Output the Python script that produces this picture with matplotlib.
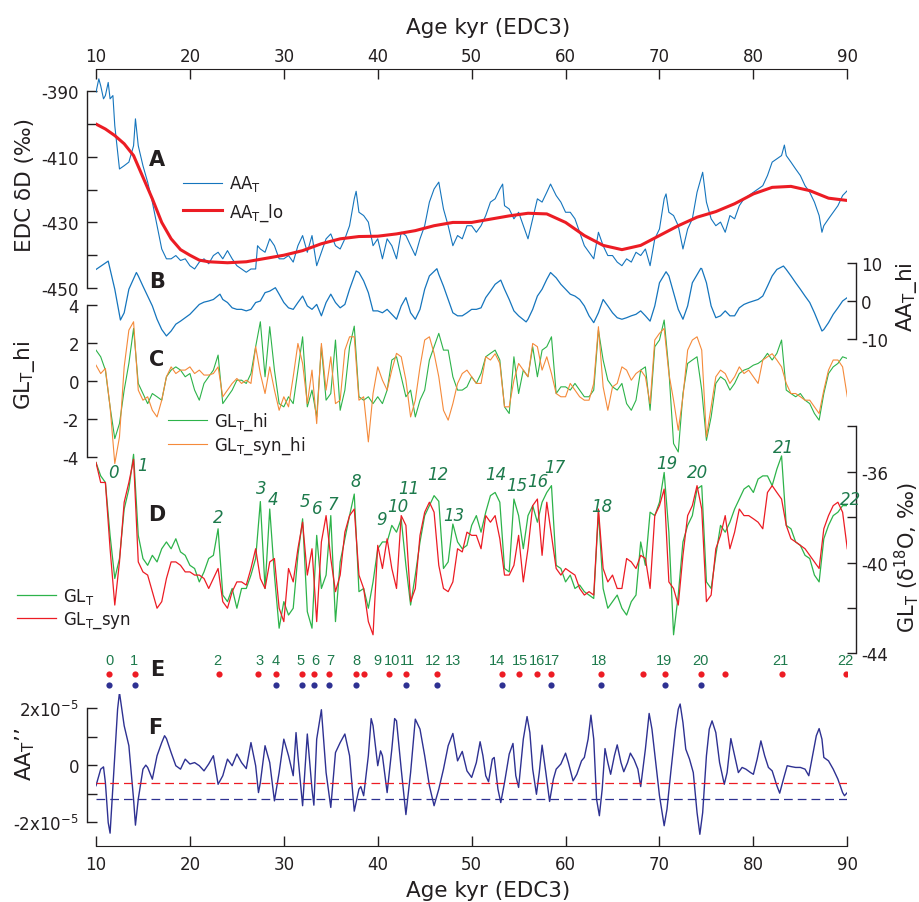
import numpy as np
import matplotlib
matplotlib.use('Agg')
import matplotlib.pyplot as plt

plt.rcParams['font.family'] = ['DejaVu Sans']
plt.rcParams['mathtext.default'] = 'regular'
plt.rcParams['axes.unicode_minus'] = False

# ── Values ───────────────────────────────────────────────────────────────────
# A: EDC dD (permil) and its low-pass
aa_age = [10, 10.3, 10.5, 10.8, 11, 11.3, 11.5, 11.8, 12, 12.5, 13, 13.5, 14, 14.2, 14.5,
          15, 15.5, 16, 16.5, 17, 17.5, 18, 18.5, 19, 19.5, 20, 20.5, 21, 21.5, 22, 22.5,
          23, 23.5, 24, 24.5, 25, 25.5, 26, 26.5, 27, 27.2, 27.5, 28, 28.5, 29, 29.5, 30,
          30.5, 31, 31.5, 32, 32.5, 33, 33.5, 34, 34.5, 35, 35.5, 36, 36.5, 37, 37.5, 37.7,
          38, 38.5, 39, 39.5, 40, 40.5, 41, 41.5, 42, 42.5, 43, 43.5, 44, 44.5, 45, 45.5,
          46, 46.5, 47, 47.5, 48, 48.5, 49, 49.5, 50, 50.5, 51, 51.5, 52, 52.5, 53, 53.3,
          53.5, 54, 54.5, 55, 55.5, 56, 56.5, 57, 57.5, 58, 58.4, 59, 59.5, 60, 60.5, 61,
          61.5, 62, 62.5, 63, 63.5, 64, 64.5, 65, 65.5, 66, 66.5, 67, 67.5, 68, 68.5, 69,
          69.5, 70, 70.5, 70.7, 71, 71.5, 72, 72.5, 73, 73.5, 74, 74.6, 75, 75.5, 76, 76.5,
          77, 77.5, 78, 78.5, 79, 79.5, 80, 80.5, 81, 81.5, 82, 82.5, 83, 83.3, 83.5, 84,
          84.5, 85, 85.5, 86, 86.5, 87, 87.3, 87.5, 88, 88.5, 89, 89.5, 90]
aa_val = [-390.3, -386.2, -388.3, -392.3, -391.3, -387.3, -392.3, -391.3, -400.5, -413.7,
          -412.7, -411.6, -406.6, -398.4, -406.6, -412.7, -417.7, -423.8, -431.0, -438.1,
          -441.1, -441.1, -440.1, -441.6, -441.1, -443.2, -444.2, -442.1, -441.1, -442.6,
          -440.1, -439.1, -441.1, -438.6, -441.1, -443.2, -444.2, -445.2, -444.2, -444.2,
          -437.1, -438.1, -439.1, -435.0, -437.1, -441.1, -441.1, -440.1, -442.1, -437.1,
          -434.0, -439.1, -434.0, -443.2, -439.1, -435.0, -433.5, -437.1, -438.1, -435.0,
          -431.0, -422.8, -420.5, -426.9, -427.9, -429.9, -437.1, -435.0, -441.1, -435.0,
          -437.1, -441.1, -433.0, -434.0, -437.1, -440.1, -435.0, -431.0, -423.8, -419.8,
          -417.7, -425.9, -431.0, -437.1, -434.0, -435.0, -431.0, -431.0, -433.0, -431.0,
          -427.9, -423.8, -422.8, -419.8, -418.3, -424.9, -425.9, -428.9, -426.9, -431.0,
          -435.0, -428.9, -422.8, -423.8, -420.8, -418.3, -421.8, -423.8, -426.9, -426.9,
          -428.9, -433.0, -437.1, -439.1, -441.1, -433.0, -437.1, -440.1, -440.1, -442.1,
          -443.2, -441.1, -442.1, -439.1, -440.1, -438.1, -443.2, -435.0, -432.0, -422.8,
          -421.3, -426.9, -427.9, -431.0, -438.1, -432.0, -428.9, -420.8, -414.7, -423.8,
          -428.9, -431.0, -429.9, -433.0, -427.9, -428.9, -424.9, -422.8, -421.8, -420.8,
          -419.8, -418.8, -415.7, -411.6, -410.6, -409.6, -406.4, -409.6, -411.6, -413.7,
          -415.7, -418.8, -420.8, -423.8, -427.9, -433.0, -431.0, -428.9, -426.9, -424.9,
          -421.8, -420.3]
aalo_age = [10, 11, 12, 13, 14, 15, 16, 17, 18, 19, 20, 21, 22, 24, 26, 28, 30, 32, 34, 36,
            38, 40, 42, 44, 46, 48, 50, 52, 54, 56, 58, 60, 62, 64, 66, 68, 70, 72, 74, 76,
            78, 80, 82, 84, 86, 88, 90]
aalo_val = [-400, -401.5, -403.5, -406, -409.6, -416.2, -422.8, -430, -435, -438.3, -440,
            -441.5, -442, -442.3, -442, -441, -440, -438.6, -436.5, -435, -434.3, -434.2,
            -433.5, -432.5, -431, -430, -430, -429, -428, -427.2, -427.4, -430, -434, -437,
            -438.3, -437, -434, -431, -428.4, -426.7, -424.3, -421.3, -419.3, -419, -420.3,
            -422.6, -423.3]

# B: AA_T high-pass
aahi_age = [10, 11.3, 12, 12.6, 13, 13.5, 14.3, 14.5, 15, 15.5, 16, 16.5, 17, 17.5, 18, 18.5,
            19, 19.5, 20, 20.5, 21, 21.5, 22, 22.5, 23.2, 23.5, 24, 24.5, 25, 25.5, 26, 26.5,
            27, 27.5, 28, 28.5, 29.1, 29.5, 30, 30.5, 31, 31.5, 32, 32.5, 33, 33.5, 34, 34.5,
            35, 35.5, 36, 36.5, 37, 37.7, 38, 38.5, 39, 39.5, 40, 40.5, 41, 41.5, 42, 42.5,
            43, 43.5, 44, 44.5, 45, 45.5, 46.3, 46.5, 47, 47.5, 48, 48.5, 49, 49.5, 50, 50.5,
            51, 51.5, 52, 52.5, 53.1, 53.5, 54, 54.5, 55, 55.8, 56, 56.5, 57, 57.5, 58, 58.4,
            59, 59.5, 60, 60.5, 61, 61.5, 62, 62.5, 63, 63.5, 64, 64.5, 65, 65.5, 66, 66.5,
            67, 67.5, 68, 68.5, 69, 69.5, 70, 70.7, 71, 71.5, 72, 72.5, 73, 73.5, 74.4, 74.5,
            75, 75.5, 76, 76.5, 77, 77.5, 78, 78.5, 79, 79.5, 80, 80.5, 81, 81.5, 82, 82.5,
            83.2, 83.5, 84, 84.5, 85, 85.5, 86, 86.5, 87, 87.3, 87.5, 88, 88.5, 89, 89.5, 90]
aahi_val = [8.3, 10.5, 3.1, -5.0, -3.1, 3.1, 7.5, 6.6, 3.9, 1.3, -1.3, -4.8, -7.5, -9.2,
            -7.9, -6.1, -5.3, -4.4, -3.5, -2.2, -0.9, -0.3, 0, 0.4, 1.8, 0.4, -0.4, -1.8,
            -2.2, -2.2, -2.6, -2.2, -0.4, 0, 2.2, 2.6, 3.5, 1.8, -0.4, -1.8, -2.2, -0.4, 1.3,
            -1.3, -2.2, -0.9, -3.9, -0.4, 1.8, -0.4, -1.8, -0.9, 3.1, 7.9, 7.5, 5.3, 2.2,
            -2.6, -2.6, -3.1, -2.2, -3.5, -4.8, -1.3, 0.9, -3.1, -4.8, -2.2, 3.1, 6.6, 8.5,
            7.0, 3.9, 0.4, -3.1, -3.9, -3.9, -3.1, -2.2, -2.2, -1.8, 0.9, 2.6, 4.4, 5.5, 3.1,
            0.4, -2.6, -3.9, -5.5, -4.8, -2.2, 1.3, 3.1, 5.7, 7.5, 6.1, 4.4, 3.1, 1.8, 1.3,
            0.4, -1.3, -3.9, -5.7, -3.1, 0.4, -1.3, -3.1, -4.4, -4.8, -4.4, -3.9, -3.5, -2.6,
            -3.9, -5.3, -1.3, 4.8, 7.7, 6.6, 2.2, -2.2, -4.8, -1.3, 4.8, 8.6, 8.5, 4.8, -1.3,
            -4.4, -3.9, -2.6, -3.9, -3.9, -1.8, -0.9, -0.4, 0, 0.4, 1.3, 3.9, 6.6, 8.3, 9.2,
            8.3, 6.6, 4.8, 3.1, 1.3, -0.4, -3.1, -6.1, -7.9, -7.5, -5.7, -3.5, -1.8, 0, 0.9]

# C and D are read every 0.5 kyr from 10 to 90 kyr
grid_age = np.arange(10, 90.01, 0.5)
glhi_val = [1.63, 1.28, 0.58, -1.35, -3.02, -2.23, -0.47, 0.93, 2.77, -0.12,
            -0.65, -1.18, -0.65, -0.82, -1.0, 0.23, 0.58, 0.75, 0.58, 0.23,
            0.4, -0.47, -1.0, -0.12, 0.23, 0.58, 1.37, -1.18, -0.82, -0.47,
            0.05, 0.05, -0.12, 0.4, 1.81, 3.12, 0.23, 2.86, 0.58, -1.18,
            -1.35, -0.82, -1.18, 0.58, 2.33, -1.35, -0.47, -1.88, 1.81, -1.0,
            -0.65, 2.16, -1.53, -0.47, 1.81, 2.89, -0.82, -1.0, -0.82, -1.18,
            -0.82, -1.18, -0.47, 1.11, 1.28, 0.23, -0.82, -0.47, -1.88, -1.0,
            -0.47, 1.11, 1.81, 2.51, 1.63, 1.63, 0.23, -0.47, -0.47, -0.3,
            0.23, -0.12, 0.4, 1.28, 1.46, 1.63, 1.11, -1.35, -1.7, 1.28,
            -0.65, 0.58, 0.23, 1.81, 0.23, 1.63, 1.81, 2.33, -0.65, -0.3,
            -0.3, -0.47, -0.12, -0.47, -0.82, -0.82, -0.47, 2.68, 1.11, 0.05,
            -0.3, -0.47, -0.12, -1.18, -1.53, -1.0, 0.58, 0.75, -1.53, 1.81,
            2.16, 3.21, 0.58, -3.28, -3.72, -0.65, 0.93, 1.11, 1.28, -0.47,
            -3.11, -1.88, -0.12, 0.23, 0.05, -0.47, -0.12, 0.4, 0.58, 0.67,
            0.84, 0.93, 1.11, 1.46, 1.11, 1.46, 2.16, -0.47, -0.65, -0.82,
            -0.65, -1.0, -1.18, -1.7, -2.05, -0.65, 0.4, 0.75, 0.93, 1.28,
            1.19]
glsynhi_val = [0.84, 0.4, 0.67, -1.35, -4.33, -2.93, 0.75, 2.68, 3.12, -0.47,
               -1.0, -0.82, -1.53, -1.88, -1.0, 0.23, 0.75, 0.4, 0.58, 0.58,
               0.75, 0.4, 0.58, 0.32, 0.32, 0.4, 0.75, -0.82, -0.47, -0.12,
               0.14, -0.12, 0.05, -0.12, 1.81, 0.4, -0.65, 0.75, -0.47, -1.53,
               -0.82, -1.35, 0.23, 1.98, 0.93, -1.18, 0.58, -2.23, 1.98, -0.47,
               1.28, -1.18, -1.0, 1.63, 2.33, 2.33, -1.0, -0.82, -3.19, -0.65,
               0.75, 0.05, -0.47, 0.58, 1.46, 1.28, 0.05, -1.88, -1.0, 0.75,
               2.16, 2.33, 1.46, 0.23, -1.53, -2.05, -1.18, -0.12, 0.4, 0.58,
               0.23, -0.12, -0.12, 1.28, 1.11, 1.44, 0.93, -1.35, -1.35, 0.05,
               0.93, 0.58, 0.23, 1.98, 1.81, 0.58, 1.28, 0.4, -0.65, -0.82,
               -0.82, -0.12, -0.47, -0.82, -1.0, -1.0, -0.12, 2.86, -0.3, -1.53,
               -0.3, -0.12, 0.75, 0.58, 0.05, 0.4, 0.58, 0.23, -1.18, 2.16,
               2.51, 2.77, 0.4, -1.0, -2.58, -0.82, 1.63, 2.16, 2.33, 1.63,
               -2.93, -1.35, 0.23, 0.58, 0.4, -0.12, 0.23, 0.75, 0.4, 0.58,
               0.23, -0.12, 1.11, 1.28, 1.44, 1.11, 0.75, -0.12, -0.65, -0.65,
               -0.82, -1.0, -1.0, -1.35, -1.7, -0.47, 0.58, 1.11, 1.11, 0.75,
               -0.82]
gl_val = [-35.59, -36.18, -36.47, -38.80, -40.70, -39.82, -37.64, -36.76, -35.23, -38.80,
          -39.82, -40.12, -39.68, -39.97, -39.39, -39.09, -39.39, -38.95, -39.53, -39.68,
          -40.12, -40.26, -40.85, -40.41, -39.82, -39.68, -38.51, -41.43, -41.72, -41.14,
          -42.01, -41.14, -41.14, -40.55, -39.82, -37.31, -41.14, -37.64, -40.55, -42.89,
          -41.72, -42.31, -42.01, -39.68, -38.07, -42.16, -42.89, -38.80, -41.14, -40.55,
          -37.93, -42.60, -39.97, -38.95, -37.93, -36.98, -41.28, -41.14, -42.01, -40.85,
          -39.39, -39.09, -39.09, -38.36, -38.66, -38.07, -40.12, -41.87, -40.55, -39.09,
          -37.93, -37.49, -37.05, -37.30, -40.26, -39.97, -38.30, -39.09, -39.39, -39.24,
          -38.36, -37.93, -38.66, -37.78, -37.05, -36.91, -37.34, -40.26, -40.41, -37.20,
          -37.93, -39.39, -37.93, -37.49, -38.22, -37.34, -36.91, -36.61, -40.12, -40.26,
          -40.85, -40.55, -41.14, -40.99, -41.28, -41.43, -41.58, -37.78, -41.14, -42.01,
          -41.72, -41.43, -42.01, -42.31, -41.72, -41.43, -39.09, -40.12, -37.78, -37.93,
          -37.34, -36.03, -38.66, -43.18, -41.43, -39.09, -38.36, -37.93, -36.76, -36.61,
          -40.85, -41.14, -39.68, -38.36, -38.66, -38.22, -37.64, -37.20, -36.76, -36.61,
          -36.91, -36.32, -36.18, -36.18, -36.61, -35.88, -35.30, -38.36, -38.51, -39.09,
          -39.24, -39.68, -39.82, -40.55, -40.85, -38.95, -38.36, -37.93, -37.78, -37.49,
          -37.49]
glsyn_val = [-35.59, -36.47, -36.47, -39.39, -41.87, -39.97, -37.34, -36.47, -35.45, -39.97,
             -40.41, -40.55, -41.28, -42.01, -41.72, -40.70, -39.97, -39.97, -40.12, -40.41,
             -40.41, -40.55, -40.55, -40.70, -41.14, -40.70, -40.26, -41.72, -42.01, -41.28,
             -40.85, -40.85, -40.99, -40.26, -39.39, -40.70, -41.14, -39.97, -39.82, -42.01,
             -42.60, -40.26, -40.85, -39.39, -38.22, -40.55, -39.39, -42.60, -39.09, -37.93,
             -39.82, -41.28, -40.55, -38.66, -37.93, -37.64, -40.55, -41.14, -42.60, -43.18,
             -39.24, -40.26, -38.95, -40.26, -41.14, -37.93, -38.36, -41.72, -41.14, -38.80,
             -37.78, -37.34, -37.78, -40.12, -41.14, -41.28, -40.85, -39.39, -39.53, -38.66,
             -38.80, -38.80, -39.39, -37.93, -38.22, -37.93, -38.95, -40.55, -40.55, -40.12,
             -38.80, -40.85, -39.39, -37.49, -37.20, -39.68, -37.34, -38.80, -40.26, -40.55,
             -40.26, -40.41, -40.55, -41.14, -41.43, -41.28, -41.43, -37.64, -40.26, -40.85,
             -40.55, -41.14, -41.14, -39.82, -39.97, -40.26, -39.68, -39.82, -41.14, -37.93,
             -37.49, -36.76, -40.85, -41.14, -41.87, -39.68, -37.93, -37.49, -36.61, -37.64,
             -41.72, -41.43, -39.39, -38.80, -37.93, -39.39, -38.66, -37.64, -37.93, -37.93,
             -38.07, -38.22, -38.51, -36.91, -36.61, -36.91, -37.20, -38.36, -38.95, -39.09,
             -39.24, -39.39, -39.68, -39.97, -40.26, -38.51, -37.93, -37.49, -37.34, -37.78,
             -39.39]

# D / E: event numbering
event_names = [str(i) for i in range(23)]
d_name_age = [11.9, 14.9, 23.0, 27.6, 28.9, 32.2, 33.6, 35.2, 37.7, 40.4, 42.1, 43.3, 46.4,
              48.1, 52.6, 54.8, 57.0, 58.9, 63.9, 70.8, 74.1, 83.2, 90.3]
d_name_val = [-36.0, -35.7, -38.0, -36.7, -37.2, -37.3, -37.6, -37.4, -36.4, -38.1, -37.5,
              -36.7, -36.1, -37.9, -36.1, -36.6, -36.4, -35.8, -37.5, -35.6, -36.0, -34.9,
              -37.2]
e_name_age = [11.42, 14.05, 22.96, 27.36, 29.14, 31.8, 33.32, 34.92, 37.69, 40.0, 41.49,
              43.15, 45.86, 47.99, 52.67, 55.15, 57.0, 58.56, 63.53, 70.52, 74.32, 82.84,
              89.76]
red_age = [11.42, 14.19, 23.10, 27.25, 29.14, 31.91, 33.25, 34.85, 37.66, 38.54, 41.20,
           42.98, 46.32, 53.21, 55.08, 57.0, 58.49, 63.75, 68.29, 70.63, 74.40, 76.95,
           83.09, 89.87]
blue_age = [11.42, 14.19, 29.14, 31.91, 33.25, 34.85, 37.66, 42.98, 46.32, 53.21, 58.49,
            63.75, 70.63, 74.40]

# F: second derivative of AA_T (units of 1e-5)
aa2_age = [10, 10.5, 10.8, 11, 11.3, 11.5, 12, 12.3, 12.5, 13, 13.5, 14, 14.2, 14.5, 15, 15.3,
           15.5, 16, 16.5, 17, 17.3, 17.5, 18, 18.5, 19, 19.5, 20, 20.5, 21, 21.5, 22, 22.5,
           23, 23.5, 24, 24.5, 25, 25.5, 26, 26.5, 27, 27.3, 27.5, 28, 28.5, 29, 29.5, 30,
           30.5, 31, 31.3, 31.5, 32, 32.5, 33, 33.2, 33.5, 34, 34.5, 35, 35.5, 36, 36.5, 37,
           37.5, 38, 38.2, 38.5, 39, 39.3, 39.5, 40, 40.3, 40.5, 41, 41.5, 41.8, 42, 42.5, 43,
           43.5, 44, 44.5, 45, 45.5, 46, 46.5, 47, 47.5, 48, 48.5, 49, 49.5, 50, 50.5, 50.9,
           51.2, 51.5, 51.8, 52.2, 52.4, 52.8, 53.1, 53.5, 54, 54.4, 54.7, 55, 55.5, 55.9,
           56.2, 56.5, 56.9, 57.2, 57.5, 57.9, 58.3, 58.7, 59, 59.5, 60, 60.3, 60.8, 61.2,
           61.7, 62, 62.4, 62.7, 63, 63.3, 63.6, 63.9, 64.2, 64.5, 64.8, 65.2, 65.5, 65.9,
           66.2, 66.6, 66.9, 67.3, 67.7, 68, 68.5, 68.9, 69.2, 69.6, 70, 70.5, 70.8, 71.2,
           71.7, 72, 72.2, 72.5, 72.8, 73.2, 73.6, 74, 74.3, 74.6, 75, 75.3, 75.6, 76, 76.4,
           76.9, 77.2, 77.6, 78, 78.4, 78.8, 79.2, 79.7, 80, 80.4, 80.8, 81.2, 81.6, 82, 82.5,
           82.8, 83.2, 83.6, 84, 84.5, 85, 85.5, 85.9, 86.3, 86.7, 87, 87.3, 87.5, 88, 88.5,
           89, 89.5, 89.7, 90]
aa2_val = [-0.72, -0.14, -0.06, -0.61, -2.01, -2.38, 0.33, 1.96, 2.54, 1.38, 0.68, -1.19,
           -2.10, -1.19, -0.14, 0, -0.08, -0.49, 0.33, 0.79, 1.03, 0.93, 0.44, -0.02, -0.14,
           0.21, 0.04, 0.09, -0.02, -0.2, 0.04, 0.33, -0.67, -0.37, 0.21, -0.02, 0.39, 0.09,
           -0.12, 0.79, -0.02, -0.96, -0.61, 0.68, 0.09, -1.25, -0.26, 0.91, 0.33, -0.37,
           1.14, 0.33, -1.42, 1.09, -0.84, -1.40, 0.91, 1.94, -0.26, -1.48, 0.44, 0.79, 1.09,
           0.33, -1.61, -0.84, -0.75, -1.07, 0.33, 1.63, 1.38, -0.02, 0.50, 0.33, -0.96, 0.56,
           1.63, 1.55, -0.14, -1.73, -0.26, 1.61, 1.26, 0.33, -0.72, -1.42, -0.84, -0.14,
           0.68, 1.11, 0.15, 0.48, -0.2, -0.43, 0.09, 0.82, 0.33, -0.37, -0.58, 0.21, 0.27,
           -0.84, -1.31, -0.61, 0.39, 0.76, -0.37, -0.78, 0.91, 1.70, 1.14, -0.14, -1.02,
           -0.26, 0.70, -0.26, -1.27, -0.49, -0.14, 0.04, 0.42, 0.09, -0.55, -0.32, 0.15,
           0.27, 0.91, 1.75, 0.91, -1.19, -1.77, -0.84, 0.58, 0.09, -0.32, 0.33, 0.71, 0.09,
           -0.23, 0.09, 0.42, 0.19, -0.14, -0.75, 0.56, 1.81, 1.26, 0.09, -1.07, -2.12,
           -1.54, -0.26, 1.26, 1.96, 2.14, 1.49, 0.56, 0.21, -0.26, -1.66, -2.42, -1.66, 0.33,
           1.26, 1.55, 1.14, 0.09, -0.67, -0.26, 0.93, 0.33, -0.26, -0.08, -0.14, -0.26,
           -0.32, 0.21, 0.85, 0.33, -0.08, -0.2, -0.72, -0.98, -0.49, -0.02, -0.05, -0.08,
           -0.08, -0.14, -0.37, 0.33, 1.03, 1.28, 0.91, 0.27, 0.15, -0.14, -0.49, -0.96,
           -1.07, -0.96]
aa2_red_thr = -0.62   # dashed thresholds, 1e-5 units
aa2_blue_thr = -1.2

# ── Styling ───────────────────────────────────────────────────────────────────
INK = '#231f20'
C_AA = '#1575bd'
C_LO = '#ec1c24'
C_GREEN = '#2db34a'
C_ORANGE = '#f58a3a'
C_RED = '#ec1c24'
C_NAVY = '#2e3192'
C_EVT = '#1d7a4c'

W, H = 920, 903
PT = 0.72          # points per pixel at 100 dpi
X0, X1 = 96, 847.3

fig = plt.figure(figsize=(W / 100, H / 100), dpi=100)


def panel(top, bottom, ref1, ref2):
    """Transparent axes spanning pixel rows top..bottom; ref = (value, pixel row)."""
    ax = fig.add_axes([X0 / W, 1 - bottom / H, (X1 - X0) / W, (bottom - top) / H])
    (v1, p1), (v2, p2) = ref1, ref2
    k = (v1 - v2) / (p2 - p1)
    ax.set_xlim(10, 90)
    ax.set_ylim(v1 - (bottom - p1) * k, v1 + (p1 - top) * k)
    ax.patch.set_visible(False)
    for s in ax.spines.values():
        s.set_visible(False)
    ax.tick_params(which='both', bottom=False, top=False, left=False, right=False,
                   labelbottom=False, labeltop=False, labelleft=False, labelright=False)
    return ax


def yaxis(ax, side, lo, hi, major, minor=(), labels=None, pad=5.8):
    sp = ax.spines[side]
    sp.set_visible(True)
    sp.set_position(('outward', 9 * PT))
    sp.set_bounds(lo, hi)
    sp.set_linewidth(1)
    sp.set_color(INK)
    ax.set_yticks(major)
    if labels is not None:
        ax.set_yticklabels(labels)
    ax.set_yticks(list(minor), minor=True)
    kw = {side: True, 'label' + side: True}
    ax.tick_params(axis='y', which='both', direction='in', length=9.5 * PT, width=1,
                   color=INK, labelcolor=INK, labelsize=12, pad=pad, **kw)


def legend(handles, x, y_mid, spacing):
    fig.legend(handles=handles, loc='center left', bbox_to_anchor=(x / W, 1 - y_mid / H),
               frameon=False, fontsize=12, handlelength=2.34, handletextpad=0.42,
               labelspacing=spacing, borderpad=0, borderaxespad=0, labelcolor=INK)


def ftext(x, y, s, **kw):
    fig.text(x / W, 1 - y / H, s, ha='center', va='center', color=INK, **kw)


# ── A ─────────────────────────────────────────────────────────────────────────
ax_a = panel(70, 300, (-390, 92.3), (-450, 289))
la, = ax_a.plot(aa_age, aa_val, color=C_AA, lw=0.8, label='AA$_T$')
ll, = ax_a.plot(aalo_age, aalo_val, color=C_LO, lw=2.2, label='AA$_T$_lo')
yaxis(ax_a, 'left', -450, -390, [-450, -430, -410, -390], minor=[-440, -420, -400])
ax_a.spines['top'].set_visible(True)
ax_a.spines['top'].set_color(INK)
ax_a.set_xticks(range(10, 91, 10))
ax_a.tick_params(axis='x', which='major', direction='in', top=True, labeltop=True,
                 length=10 * PT, width=1, color=INK, labelcolor=INK, labelsize=12, pad=3)
legend([la, ll], 183, 199, 0.45)

# ── B ─────────────────────────────────────────────────────────────────────────
ax_b = panel(250, 350, (10, 264), (-10, 340))
ax_b.plot(aahi_age, aahi_val, color=C_AA, lw=0.9)
yaxis(ax_b, 'right', -10, 10, [-10, 0, 10], pad=3.6)

# ── C ─────────────────────────────────────────────────────────────────────────
ax_c = panel(290, 470, (4, 306), (-4, 458.3))
lg, = ax_c.plot(grid_age, glhi_val, color=C_GREEN, lw=0.8, label='GL$_T$_hi')
lo_, = ax_c.plot(grid_age, glsynhi_val, color=C_ORANGE, lw=0.8, label='GL$_T$_syn_hi')
yaxis(ax_c, 'left', -4, 4, [-4, -2, 0, 2, 4])
legend([lg, lo_], 168, 434, 0.15)

# ── D ─────────────────────────────────────────────────────────────────────────
ax_d = panel(420, 660, (-36, 472.8), (-44, 654.4))
lg2, = ax_d.plot(grid_age, gl_val, color=C_GREEN, lw=0.9, label='GL$_T$')
lr2, = ax_d.plot(grid_age, glsyn_val, color=C_RED, lw=0.9, label='GL$_T$_syn')
yaxis(ax_d, 'right', -44, -34, [-44, -40, -36], minor=[-42, -38, -34], pad=3.6)
for name, a, v in zip(event_names, d_name_age, d_name_val):
    ax_d.text(a, v, name, ha='center', va='center', fontsize=12, style='italic',
              color=C_EVT)
legend([lg2, lr2], 17, 609, 0.2)

# ── E ─────────────────────────────────────────────────────────────────────────
ROW_BLUE, ROW_RED, ROW_TXT = 0, 1, 2.27
ax_e = panel(645, 700, (ROW_RED, 674.7), (ROW_BLUE, 685.7))
ax_e.scatter(red_age, [ROW_RED] * len(red_age), s=20, color='#ed1c24', lw=0)
ax_e.scatter(blue_age, [ROW_BLUE] * len(blue_age), s=20, color=C_NAVY, lw=0)
for name, a in zip(event_names, e_name_age):
    ax_e.text(a, ROW_TXT, name, ha='center', va='center', fontsize=10.5,
              family='Liberation Sans', color=C_EVT)

# ── F ─────────────────────────────────────────────────────────────────────────
ax_f = panel(695, 846.7, (2e-5, 709), (-2e-5, 823.3))
ax_f.plot(aa2_age, np.array(aa2_val) * 1e-5, color=C_NAVY, lw=1.0)
ax_f.axhline(aa2_red_thr * 1e-5, color='#ed1c24', lw=0.9, dashes=(7, 4))
ax_f.axhline(aa2_blue_thr * 1e-5, color=C_NAVY, lw=0.9, dashes=(7, 4))
yaxis(ax_f, 'left', -2e-5, 2e-5, [-2e-5, 0, 2e-5], minor=[-1e-5, 1e-5],
      labels=['-2x10$^{-5}$', '0', '2x10$^{-5}$'])
ax_f.spines['bottom'].set_visible(True)
ax_f.spines['bottom'].set_color(INK)
ax_f.set_xticks(range(10, 91, 10))
ax_f.tick_params(axis='x', which='major', direction='in', bottom=True, labelbottom=True,
                 length=10 * PT, width=1, color=INK, labelcolor=INK, labelsize=12, pad=7)

# ── Labels ────────────────────────────────────────────────────────────────────
ftext(488, 28, 'Age kyr (EDC3)', fontsize=15.5)
ftext(488, 891, 'Age kyr (EDC3)', fontsize=15.5)
ftext(25, 185, 'EDC \u03b4D (\u2030)', fontsize=15.5, rotation=90)
ftext(25, 376, 'GL$_T$_hi', fontsize=15.5, rotation=90)
ftext(25, 754, 'AA$_T$\u2019\u2019', fontsize=15.5, rotation=90)
ftext(907, 297, 'AA$_T$_hi', fontsize=15.5, rotation=90)
ftext(907, 558, 'GL$_T$ (\u03b4$^{18}$O, \u2030)', fontsize=15, rotation=90)
for letter, x, y in [('A', 157, 160), ('B', 157, 282), ('C', 157, 360),
                     ('D', 157, 515), ('E', 157, 670), ('F', 155, 728)]:
    ftext(x, y, letter, fontsize=15, fontweight='bold')

fig.savefig('out.png', dpi=100)
